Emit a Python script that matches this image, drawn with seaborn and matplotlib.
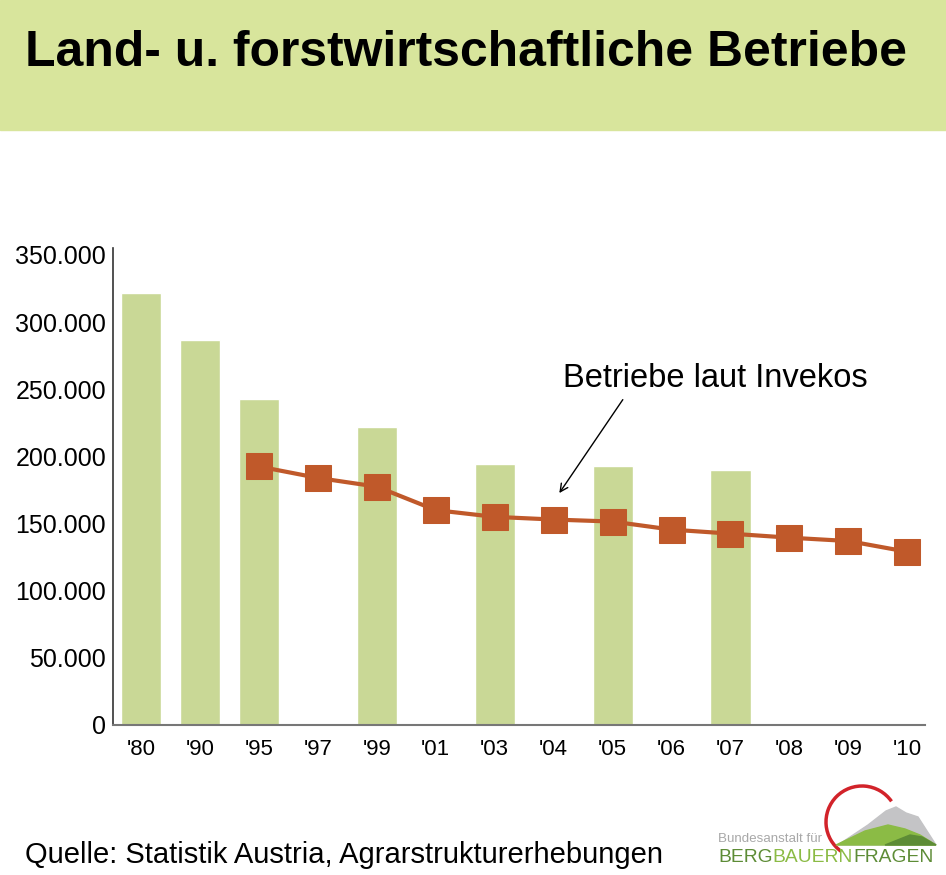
import numpy as np
import pandas as pd
import matplotlib.pyplot as plt
import matplotlib.patches as mpatches
import seaborn as sns

# Daten
jahre = ["'80", "'90", "'95", "'97", "'99", "'01", "'03", "'04", "'05", "'06", "'07", "'08", "'09", "'10"]
agrarstruktur_jahre = ["'80", "'90", "'95", "'99", "'03", "'05", "'07"]
agrarstruktur_werte = [322000, 287000, 243000, 222000, 194000, 193000, 190000]
invekos_jahre = ["'95", "'97", "'99", "'01", "'03", "'04", "'05", "'06", "'07", "'08", "'09", "'10"]
invekos_werte = [192500, 184000, 177500, 160000, 155000, 153000, 151500, 145500, 142500, 139500, 137000, 129000]

BAR_COLOR = '#c9d896'
LINE_COLOR = '#c0592a'
BAND_COLOR = '#d8e59c'

sns.set_style('white')
plt.rcParams['font.family'] = ['Liberation Sans', 'DejaVu Sans']
plt.rcParams['text.color'] = 'black'
plt.rcParams['xtick.color'] = 'black'
plt.rcParams['ytick.color'] = 'black'

fig = plt.figure(figsize=(9.46, 8.75), dpi=100)

# Titelband
fig.patches.append(mpatches.Rectangle((0, 1 - 130 / 875), 1, 130 / 875, transform=fig.transFigure,
                                      color=BAND_COLOR, zorder=0))
fig.text(25 / 946, 1 - 53 / 875, 'Land- u. forstwirtschaftliche Betriebe', fontsize=35.9,
         fontweight='bold', va='center', ha='left')

ax = fig.add_axes([113 / 946, 1 - 725 / 875, (925 - 113) / 946, (725 - 255) / 875])

df_bar = pd.DataFrame({'jahr': agrarstruktur_jahre, 'betriebe': agrarstruktur_werte})
sns.barplot(data=df_bar, x='jahr', y='betriebe', order=jahre, color=BAR_COLOR,
            saturation=1, width=0.68, ax=ax, zorder=1)

pos = [jahre.index(j) for j in invekos_jahre]
sns.lineplot(x=pos, y=invekos_werte, color=LINE_COLOR, linewidth=3, marker='s',
             markersize=19, markeredgecolor=LINE_COLOR, ax=ax, zorder=3)

ax.set_ylim(0, 350000)
ax.set_xlim(-0.475, 13.3)
ax.set_yticks(np.arange(0, 350001, 50000))
ax.set_yticklabels(['0' if v == 0 else f'{v // 1000}.000' for v in range(0, 350001, 50000)], fontsize=18)
ax.set_xticks(range(len(jahre)))
ax.set_xticklabels(jahre, fontsize=16)
ax.tick_params(axis='x', length=0, pad=10)
ax.tick_params(axis='y', length=0, pad=5)
ax.set_xlabel('')
ax.set_ylabel('')
for s in ['top', 'right']:
    ax.spines[s].set_visible(False)
ax.spines['left'].set_color('#333333')
ax.spines['left'].set_linewidth(1.2)
ax.spines['bottom'].set_color('#777777')
ax.spines['bottom'].set_linewidth(1.5)
ax.spines['left'].set_bounds(0, 355000)

# Beschriftung mit Pfeil
ax.text(7.16, 258000, 'Betriebe laut Invekos', fontsize=23.5, va='center', ha='left')
ax.annotate('', xy=(7.07, 171000), xytext=(8.2, 244000),
            arrowprops=dict(arrowstyle='->', color='black', lw=1, mutation_scale=14))

# Quelle
fig.text(25 / 946, 1 - 855 / 875, 'Quelle: Statistik Austria, Agrarstrukturerhebungen',
         fontsize=21, va='center', ha='left')

# Logo (vereinfacht)
lax = fig.add_axes([700 / 946, 0, 246 / 946, 95 / 875])
lax.set_xlim(0, 246)
lax.set_ylim(0, 95)
lax.axis('off')
lax.add_patch(mpatches.Arc((162, 53), 72, 72, theta1=35, theta2=235, color='#d2232a', lw=2.5))
lax.add_patch(mpatches.Polygon([[138, 30], [168, 50], [186, 64], [196, 68], [206, 62],
                                [218, 58], [236, 30]], closed=True, color='#c4c4c6'))
lax.add_patch(mpatches.Polygon([[136, 30], [165, 44], [188, 50], [205, 46], [220, 40],
                                [236, 30]], closed=True, color='#8bbb45'))
lax.add_patch(mpatches.Polygon([[185, 30], [210, 40], [222, 38], [236, 30]],
                               closed=True, color='#5d8c36'))
lax.text(18, 36, 'Bundesanstalt für', fontsize=9.6, color='#a8a8a8', va='center', ha='left')

fig.canvas.draw()
renderer = fig.canvas.get_renderer()
x0 = 718
for teil, farbe in [('BERG', '#5d8c36'), ('BAUERN', '#8bbb45'), ('FRAGEN', '#5d8c36')]:
    t = fig.text(x0 / 946, 1 - 858 / 875, teil, fontsize=13.9, color=farbe, va='center', ha='left')
    x0 += t.get_window_extent(renderer).width

fig.savefig('out.png', dpi=100)
